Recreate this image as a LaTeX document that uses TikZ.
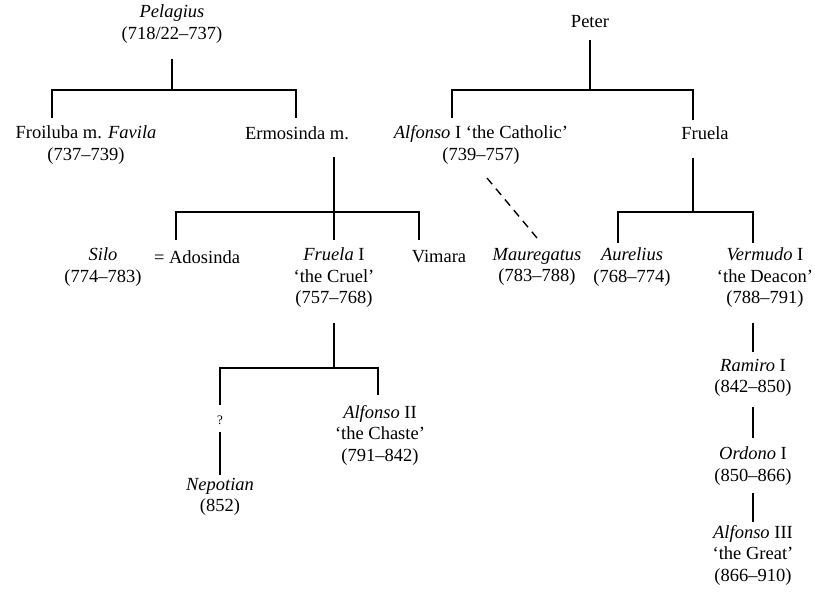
\documentclass[tikz,border=0pt]{standalone}
\usepackage{fontspec}
\setmainfont{Liberation Serif}
\begin{document}
\begin{tikzpicture}[x=1pt,y=-1pt,
  person/.style={inner sep=0pt,align=center,font=\fontsize{18.5}{21.5}\selectfont},
  qmark/.style={inner sep=0pt,font=\fontsize{13}{14}\selectfont},
  link/.style={line width=1.4pt},
  maybe/.style={line width=1.4pt,dash pattern=on 8pt off 6pt}]
\useasboundingbox (0,0) rectangle (815,593);

% persons
\node[person] (pel) at (172,24) {\textit{Pelagius}\\(718/22–737)};
\node[person] (peter) at (590,22) {Peter};
\node[person] (froi) at (86,145) {Froiluba m. \textit{Favila}\\(737–739)};
\node[person] (ermo) at (297,133) {Ermosinda m.};
\node[person] (alf1) at (481,145) {\textit{Alfonso} I ‘the Catholic’\\(739–757)};
\node[person] (fruela) at (705,133) {Fruela};
\node[person] (silo) at (103,267) {\textit{Silo}\\(774–783)};
\node[person] (ados) at (197,257) {= Adosinda};
\node[person] (fru1) at (334,278) {\textit{Fruela} I\\‘the Cruel’\\(757–768)};
\node[person] (vim) at (439,257) {Vimara};
\node[person] (maur) at (537,267) {\textit{Mauregatus}\\(783–788)};
\node[person] (aur) at (632,267) {\textit{Aurelius}\\(768–774)};
\node[person] (verm) at (765,278) {\textit{Vermudo} I\\‘the Deacon’\\(788–791)};
\node[person] (ram) at (753,378) {\textit{Ramiro} I\\(842–850)};
\node[person] (ord) at (753,466) {\textit{Ordono} I\\(850–866)};
\node[person] (alf3) at (753,555) {\textit{Alfonso} III\\‘the Great’\\(866–910)};
\node[person] (nep) at (220,497) {\textit{Nepotian}\\(852)};
\node[person] (alf2) at (380,435) {\textit{Alfonso} II\\‘the Chaste’\\(791–842)};
\node[qmark] (q) at (220,420) {?};

% junction coordinates
\coordinate (pelA) at (172,59);
\coordinate (pelB) at (172,90);
\coordinate (froiT) at (52,118);
\coordinate (ermoT) at (296,118);
\coordinate (petA) at (590,40);
\coordinate (petB) at (590,90);
\coordinate (alf1T) at (452,118);
\coordinate (fruT) at (693,120);
\coordinate (ermoA) at (334,157);
\coordinate (ermoB) at (334,212);
\coordinate (adosT) at (176,240);
\coordinate (fru1T) at (334,240);
\coordinate (vimT) at (419,240);
\coordinate (fruA) at (693,158);
\coordinate (fruB) at (693,212);
\coordinate (aurT) at (618,243);
\coordinate (vermT) at (753,243);
\coordinate (alf1D) at (487,178);
\coordinate (maurT) at (537,238);
\coordinate (fru1A) at (334,323);
\coordinate (fru1B) at (334,368);
\coordinate (qT) at (220,405);
\coordinate (qB) at (220,432);
\coordinate (nepT) at (220,475);
\coordinate (alf2T) at (378,395);
\coordinate (vermA) at (753,323);
\coordinate (ramT) at (753,352);
\coordinate (ramA) at (753,407);
\coordinate (ordT) at (753,438);
\coordinate (ordA) at (753,493);
\coordinate (alf3T) at (753,522);

% connectors
\draw[link] (pelA) -- (pelB);
\draw[link] (froiT) |- (pelB) -| (ermoT);
\draw[link] (petA) -- (petB);
\draw[link] (alf1T) |- (petB) -| (fruT);
\draw[link] (ermoA) -- (fru1T);
\draw[link] (adosT) |- (ermoB) -| (vimT);
\draw[link] (fruA) -- (fruB);
\draw[link] (aurT) |- (fruB) -| (vermT);
\draw[maybe] (alf1D) -- (maurT);
\draw[link] (fru1A) -- (fru1B);
\draw[link] (qT) |- (fru1B) -| (alf2T);
\draw[link] (qB) -- (nepT);
\draw[link] (vermA) -- (ramT);
\draw[link] (ramA) -- (ordT);
\draw[link] (ordA) -- (alf3T);
\end{tikzpicture}
\end{document}
